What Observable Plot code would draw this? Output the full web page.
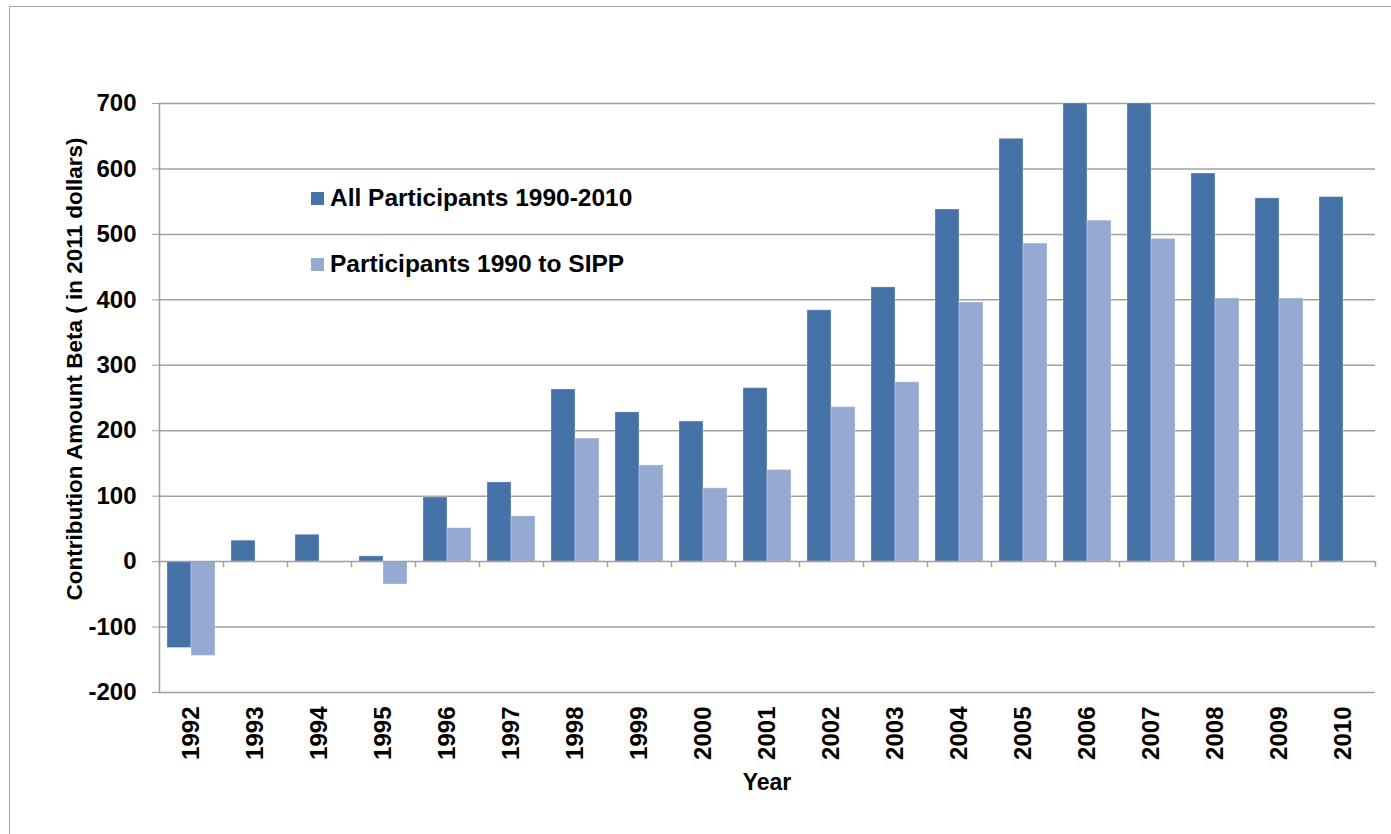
<!DOCTYPE html>
<html>
<head>
<meta charset="utf-8">
<script src="https://cdn.jsdelivr.net/npm/d3@7"></script>
<script src="https://cdn.jsdelivr.net/npm/@observablehq/plot@0.6"></script>
<style>
  html, body { margin: 0; padding: 0; background: #fff; overflow: hidden; }
  #wrap { position: relative; width: 1391px; height: 834px; font-family: "Liberation Sans", Arial, sans-serif; }
  #border { position: absolute; left: 9px; top: 6px; width: 1500px; height: 1000px; border: 1px solid #a6a6a6; box-sizing: border-box; }
  #chart { position: absolute; left: 0; top: 0; }
  .leg { position: absolute; left: 311px; display: flex; align-items: center; font-size: 24.5px; font-weight: bold; color: #000; white-space: nowrap; }
  .sw { width: 13px; height: 13px; margin-right: 6px; }
</style>
</head>
<body>
<div id="wrap">
  <div id="border"></div>
  <div id="chart"></div>
  <div id="legend"></div>
</div>
<script>
const years = ["1992","1993","1994","1995","1996","1997","1998","1999","2000","2001","2002","2003","2004","2005","2006","2007","2008","2009","2010"];
const allParticipants = [-132, 32, 41, 8, 98, 121, 263, 228, 214, 265, 384, 419, 538, 646, 700, 700, 593, 555, 557];
const sippParticipants = [-144, null, -2, -35, 51, 69, 188, 147, 112, 140, 236, 274, 396, 486, 521, 493, 402, 402, null];
const seriesNames = ["All Participants 1990-2010", "Participants 1990 to SIPP"];
const seriesColors = ["#4572A7", "#95A9D1"];
const yTicks = [-200, -100, 0, 100, 200, 300, 400, 500, 600, 700];

const dataAll = years.map((y, i) => ({year: y, value: allParticipants[i]})).filter(d => d.value != null);
const dataSipp = years.map((y, i) => ({year: y, value: sippParticipants[i]})).filter(d => d.value != null);

const grid = "#a0a0a0";
const font = "Liberation Sans, Arial, sans-serif";

const plot = Plot.plot({
  width: 1391,
  height: 834,
  marginLeft: 158,
  marginRight: 16,
  marginTop: 103,
  marginBottom: 142,
  style: {fontFamily: font, background: "transparent", color: "#000", overflow: "visible"},
  x: {domain: years, padding: 0},
  y: {domain: [-200, 700]},
  marks: [
    Plot.ruleY(yTicks.filter(t => t !== 0), {y: d => d, stroke: grid, strokeWidth: 1.5}),
    Plot.barY(dataAll, {x: "year", y: "value", fill: seriesColors[0], insetLeft: 8, insetRight: 32, stroke: "#ffffff", strokeOpacity: 0.3, strokeWidth: 1}),
    Plot.barY(dataSipp, {x: "year", y: "value", fill: seriesColors[1], insetLeft: 32, insetRight: 8, stroke: "#ffffff", strokeOpacity: 0.3, strokeWidth: 1}),
    Plot.ruleY([0], {stroke: grid, strokeWidth: 1.5}),
    Plot.ruleX(years, {x: d => d, y1: 0, y2: 0, insetBottom: -6, dx: -32, stroke: grid, strokeWidth: 1.5}),
    Plot.ruleX([years[years.length - 1]], {x: d => d, y1: 0, y2: 0, insetBottom: -6, dx: 32, stroke: grid, strokeWidth: 1.5}),
    Plot.ruleX([years[0]], {x: d => d, dx: -32, stroke: grid, strokeWidth: 1.5}),
    Plot.axisY({ticks: yTicks, tickSize: 6, tickPadding: 16, stroke: grid, fill: "#000", fontSize: 24, fontWeight: "bold", tickFormat: d => String(d), label: null}),
    Plot.axisX({tickRotate: -90, tickSize: 0, tickPadding: 14, fill: "#000", fontSize: 24, fontWeight: "bold", label: null}),
    Plot.text(["Contribution Amount Beta ( in 2011 dollars)"], {text: d => d, frameAnchor: "left", textAnchor: "middle", rotate: -90, dx: -84, dy: -29, fontSize: 22.5, fontWeight: "bold", fill: "#000"}),
    Plot.text(["Year"], {text: d => d, frameAnchor: "bottom", dy: 97, fontSize: 23, fontWeight: "bold", fill: "#000"})
  ]
});
document.getElementById("chart").appendChild(plot);

const legend = document.getElementById("legend");
const legendTops = [184, 250];
seriesNames.forEach((name, i) => {
  const row = document.createElement("div");
  row.className = "leg";
  row.style.top = legendTops[i] + "px";
  row.style.height = "28px";
  const sw = document.createElement("div");
  sw.className = "sw";
  sw.style.background = seriesColors[i];
  const t = document.createElement("span");
  t.textContent = name;
  row.appendChild(sw);
  row.appendChild(t);
  legend.appendChild(row);
});
</script>
</body>
</html>
